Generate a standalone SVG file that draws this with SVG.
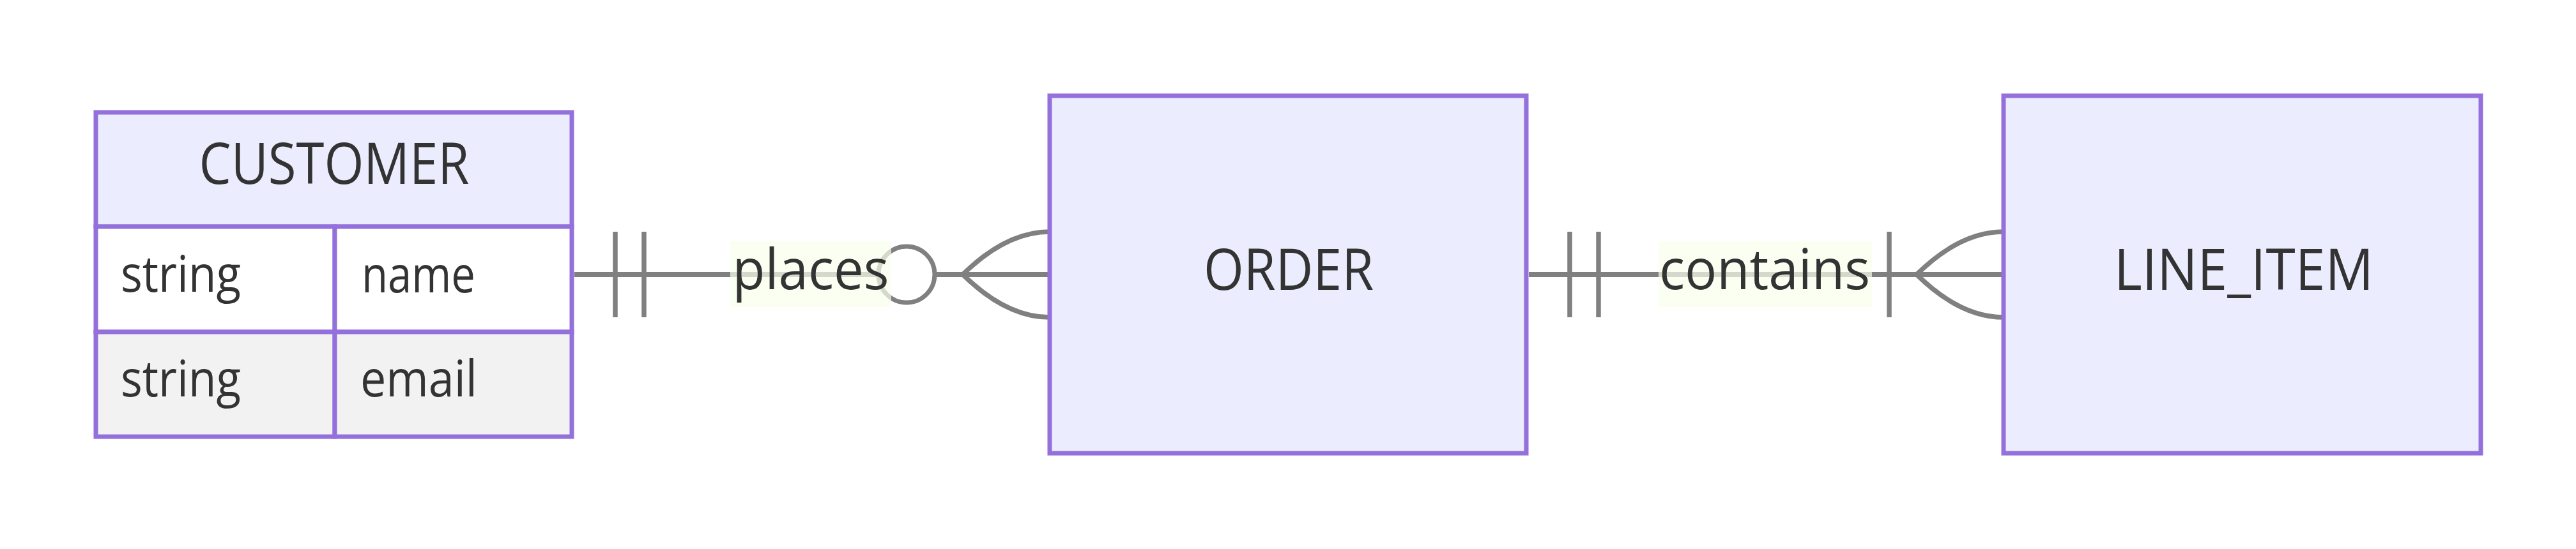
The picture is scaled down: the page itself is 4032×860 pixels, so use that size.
<svg xmlns="http://www.w3.org/2000/svg" xmlns:xlink="http://www.w3.org/1999/xlink" width="4032" height="860" viewBox="0 0 4032 860">
<style>
.ent{fill:#ECECFF;stroke:#9370DB;stroke-width:7}
.odd{fill:#ffffff;stroke:#9370DB;stroke-width:7}
.even{fill:#f2f2f2;stroke:#9370DB;stroke-width:7}
.t{font-family:"Open Sans","Liberation Sans",sans-serif;fill:#333333}
.name{font-size:90px;text-anchor:middle}
.attr{font-size:78px}
.rel{fill:none;stroke:#808080;stroke-width:8}
.mk{fill:none;stroke:#808080;stroke-width:7.5}
.circ{fill:#ffffff;stroke:#808080;stroke-width:7}
.lbox{fill:#f9ffec;opacity:0.7}
.lbl{font-size:88px;text-anchor:middle}
</style>
<defs>
<g id="onlyOneStart"><path class="mk" d="M64,-67 V67 M109,-67 V67"/></g>
<g id="crow"><path class="mk" d="M-136,0 Q-68,-67 0,-67 M-136,0 Q-68,67 0,67"/></g>
</defs>
<rect width="4032" height="860" fill="#ffffff"/>
<g id="connectors">
<g id="rel-places">
<path class="rel" d="M899,430 H1643"/>
<use xlink:href="#onlyOneStart" transform="translate(899,430)"/>
<use xlink:href="#crow" transform="translate(1643,430)"/>
<circle class="circ" cx="1419" cy="430" r="44"/>
<rect class="lbox" x="1143" y="378" width="252" height="103"/>
<text class="t lbl" x="1269" y="453" textLength="245" lengthAdjust="spacingAndGlyphs">places</text>
</g>
<g id="rel-contains">
<path class="rel" d="M2393,430 H3136"/>
<use xlink:href="#onlyOneStart" transform="translate(2393,430)"/>
<use xlink:href="#crow" transform="translate(3136,430)"/>
<path class="mk" d="M2957,363 V497"/>
<rect class="lbox" x="2596" y="378" width="334" height="103"/>
<text class="t lbl" x="2762" y="453" textLength="330" lengthAdjust="spacingAndGlyphs">contains</text>
</g>
</g>
<g id="CUSTOMER">
<rect class="ent" x="150" y="176" width="745" height="179"/>
<rect class="odd" x="150" y="355" width="374" height="165"/>
<rect class="odd" x="524" y="355" width="371" height="165"/>
<rect class="even" x="150" y="520" width="374" height="164"/>
<rect class="even" x="524" y="520" width="371" height="164"/>
<text class="t name" x="523" y="288" textLength="423" lengthAdjust="spacingAndGlyphs">CUSTOMER</text>
<text class="t attr" x="189" y="457" textLength="188" lengthAdjust="spacingAndGlyphs">string</text>
<text class="t attr" x="566" y="458" textLength="178" lengthAdjust="spacingAndGlyphs">name</text>
<text class="t attr" x="189" y="621" textLength="188" lengthAdjust="spacingAndGlyphs">string</text>
<text class="t attr" x="564" y="621" textLength="183" lengthAdjust="spacingAndGlyphs">email</text>
</g>
<g id="ORDER">
<rect class="ent" x="1643" y="150" width="746" height="560"/>
<text class="t name" x="2017" y="454" textLength="266" lengthAdjust="spacingAndGlyphs">ORDER</text>
</g>
<g id="LINE_ITEM">
<rect class="ent" x="3136" y="150" width="747" height="560"/>
<text class="t name" x="3512" y="454" textLength="406" lengthAdjust="spacingAndGlyphs">LINE_ITEM</text>
</g>
</svg>
